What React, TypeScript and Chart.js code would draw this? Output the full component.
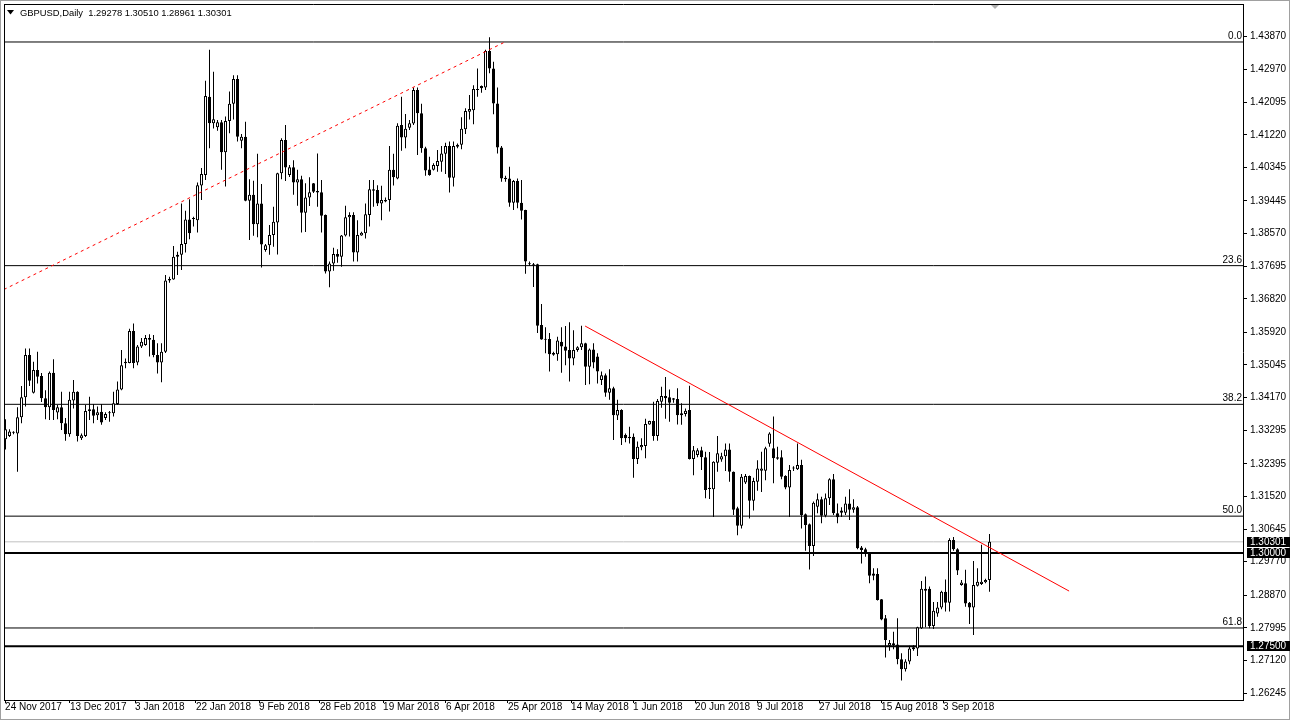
import React, { useEffect, useRef } from 'react';
import { Chart, registerables } from 'chart.js';

Chart.register(...registerables);

// ---- Data (GBPUSD Daily), one entry per bar ----
const opens = [
  1.3305, 1.3314, 1.3323, 1.3321, 1.3364, 1.3418, 1.3531, 1.3430, 1.3491, 1.3475,
  1.3415, 1.3391, 1.3484, 1.3377, 1.3391, 1.3348, 1.3319, 1.3409, 1.3433, 1.3308,
  1.3314, 1.3381, 1.3386, 1.3370, 1.3379, 1.3362, 1.3375, 1.3375, 1.3400, 1.3439,
  1.3509, 1.3510, 1.3596, 1.3511, 1.3554, 1.3558, 1.3577, 1.3572, 1.3531, 1.3511,
  1.3540, 1.3731, 1.3734, 1.3795, 1.3800, 1.3829, 1.3895, 1.3896, 1.3893, 1.3986,
  1.4014, 1.4224, 1.4153, 1.4142, 1.4156, 1.4075, 1.4159, 1.4205, 1.4272, 1.4106,
  1.4117, 1.3945, 1.3961, 1.3882, 1.3938, 1.3813, 1.3826, 1.3853, 1.3887, 1.4019,
  1.4108, 1.4014, 1.4035, 1.3994, 1.4003, 1.3913, 1.3954, 1.3992, 1.3971, 1.3968,
  1.3907, 1.3755, 1.3777, 1.3802, 1.3795, 1.3852, 1.3901, 1.3907, 1.3806, 1.3852,
  1.3858, 1.3907, 1.3972, 1.3974, 1.3938, 1.3943, 1.3947, 1.4028, 1.4005, 1.4148,
  1.4115, 1.4141, 1.4152, 1.4242, 1.4180, 1.4086, 1.4029, 1.4028, 1.4038, 1.4050,
  1.4071, 1.4092, 1.4007, 1.4090, 1.4095, 1.4137, 1.4184, 1.4188, 1.4242, 1.4253,
  1.4249, 1.4347, 1.4300, 1.4206, 1.4088, 1.4007, 1.4005, 1.3940, 1.3998, 1.3940,
  1.3920, 1.3775, 1.3775, 1.3775, 1.3612, 1.3574, 1.3574, 1.3537, 1.3533, 1.3567,
  1.3554, 1.3545, 1.3522, 1.3545, 1.3552, 1.3563, 1.3500, 1.3546, 1.3527, 1.3464,
  1.3477, 1.3430, 1.3442, 1.3369, 1.3384, 1.3317, 1.3312, 1.3312, 1.3252, 1.3284,
  1.3287, 1.3345, 1.3354, 1.3314, 1.3406, 1.3421, 1.3418, 1.3415, 1.3413, 1.3375,
  1.3373, 1.3384, 1.3252, 1.3263, 1.3276, 1.3257, 1.3172, 1.3171, 1.3242, 1.3251,
  1.3260, 1.3278, 1.3218, 1.3120, 1.3073, 1.3189, 1.3207, 1.3140, 1.3191, 1.3221,
  1.3221, 1.3293, 1.3281, 1.3257, 1.3257, 1.3207, 1.3176, 1.3227, 1.3225, 1.3236,
  1.3104, 1.3077, 1.3019, 1.3124, 1.3144, 1.3100, 1.3147, 1.3198, 1.3107, 1.3114,
  1.3108, 1.3133, 1.3116, 1.3123, 1.3015, 1.3010, 1.2999, 1.2945, 1.2944, 1.2876,
  1.2825, 1.2751, 1.2758, 1.2755, 1.2715, 1.2688, 1.2709, 1.2742, 1.2744, 1.2798,
  1.2899, 1.2904, 1.2804, 1.2838, 1.2854, 1.2896, 1.2867, 1.3035, 1.3010, 1.2914,
  1.2919, 1.2867, 1.2854, 1.2912, 1.2917, 1.2922, 1.29278,
];
const highs = [
  1.3359, 1.3332, 1.3327, 1.3391, 1.3448, 1.3549, 1.3549, 1.3513, 1.3540, 1.3483,
  1.3437, 1.3487, 1.3520, 1.3397, 1.3433, 1.3362, 1.3433, 1.3464, 1.3434, 1.3321,
  1.3397, 1.3419, 1.3400, 1.3393, 1.3400, 1.3378, 1.3381, 1.3433, 1.3460, 1.3545,
  1.3522, 1.3602, 1.3616, 1.3558, 1.3577, 1.3585, 1.3587, 1.3585, 1.3563, 1.3563,
  1.3746, 1.3741, 1.3824, 1.3808, 1.3938, 1.3918, 1.3949, 1.3902, 1.3994, 1.4033,
  1.4267, 1.4350, 1.4291, 1.4162, 1.4162, 1.4171, 1.4238, 1.4282, 1.4282, 1.4124,
  1.4157, 1.4003, 1.3999, 1.4071, 1.3990, 1.3829, 1.3880, 1.3929, 1.4020, 1.4113,
  1.4148, 1.4041, 1.4054, 1.4028, 1.4012, 1.3992, 1.4008, 1.3993, 1.4072, 1.4001,
  1.3908, 1.3782, 1.3819, 1.3815, 1.3853, 1.3932, 1.3914, 1.3914, 1.3893, 1.3862,
  1.3938, 1.4001, 1.4001, 1.3987, 1.3985, 1.3954, 1.4092, 1.4071, 1.4153, 1.4224,
  1.4178, 1.4162, 1.4249, 1.4249, 1.4205, 1.4090, 1.4063, 1.4046, 1.4081, 1.4092,
  1.4101, 1.4104, 1.4104, 1.4099, 1.4169, 1.4193, 1.4229, 1.4255, 1.4300, 1.4254,
  1.4350, 1.4384, 1.4318, 1.4249, 1.4092, 1.4012, 1.4036, 1.4001, 1.4005, 1.4001,
  1.3921, 1.3782, 1.3778, 1.3776, 1.3668, 1.3606, 1.3590, 1.3540, 1.3580, 1.3606,
  1.3609, 1.3619, 1.3598, 1.3555, 1.3610, 1.3564, 1.3549, 1.3563, 1.3536, 1.3487,
  1.3482, 1.3493, 1.3446, 1.3411, 1.3386, 1.3321, 1.3339, 1.3321, 1.3299, 1.3308,
  1.3360, 1.3355, 1.3406, 1.3413, 1.3446, 1.3472, 1.3439, 1.3416, 1.3442, 1.3402,
  1.3388, 1.3449, 1.3287, 1.3281, 1.3285, 1.3272, 1.3271, 1.3246, 1.3314, 1.3269,
  1.3294, 1.3294, 1.3219, 1.3124, 1.3212, 1.3212, 1.3208, 1.3202, 1.3249, 1.3272,
  1.3285, 1.3324, 1.3366, 1.3285, 1.3276, 1.3209, 1.3236, 1.3233, 1.3294, 1.3250,
  1.3106, 1.3079, 1.3138, 1.3160, 1.3151, 1.3160, 1.3201, 1.3212, 1.3133, 1.3123,
  1.3151, 1.3171, 1.3144, 1.3126, 1.3019, 1.3014, 1.3001, 1.2959, 1.2959, 1.2877,
  1.2834, 1.2767, 1.2789, 1.2825, 1.2731, 1.2715, 1.2751, 1.2753, 1.2802, 1.2925,
  1.2937, 1.2910, 1.2869, 1.2869, 1.2899, 1.2929, 1.3040, 1.3043, 1.3013, 1.2928,
  1.2955, 1.2869, 1.2979, 1.2959, 1.3022, 1.2931, 1.30510,
];
const lows = [
  1.3278, 1.3311, 1.3319, 1.3218, 1.3348, 1.3393, 1.3448, 1.3428, 1.3455, 1.3405,
  1.3359, 1.3357, 1.3357, 1.3359, 1.3330, 1.3301, 1.3312, 1.3388, 1.3299, 1.3303,
  1.3311, 1.3357, 1.3348, 1.3357, 1.3344, 1.3357, 1.3352, 1.3366, 1.3397, 1.3437,
  1.3496, 1.3509, 1.3496, 1.3504, 1.3550, 1.3556, 1.3527, 1.3525, 1.3482, 1.3458,
  1.3537, 1.3725, 1.3733, 1.3746, 1.3759, 1.3806, 1.3842, 1.3876, 1.3860, 1.3947,
  1.4001, 1.4086, 1.4139, 1.4133, 1.4028, 1.3983, 1.4126, 1.4163, 1.4104, 1.4086,
  1.3944, 1.3840, 1.3851, 1.3847, 1.3766, 1.3808, 1.3800, 1.3822, 1.3801, 1.4003,
  1.3998, 1.4009, 1.3961, 1.3932, 1.3860, 1.3861, 1.3931, 1.3966, 1.3929, 1.3860,
  1.3750, 1.3713, 1.3757, 1.3779, 1.3768, 1.3849, 1.3849, 1.3782, 1.3782, 1.3851,
  1.3844, 1.3876, 1.3929, 1.3931, 1.3893, 1.3941, 1.3916, 1.3986, 1.4003, 1.4079,
  1.4086, 1.4135, 1.4148, 1.4068, 1.4074, 1.4012, 1.4012, 1.4026, 1.4023, 1.4023,
  1.4017, 1.3967, 1.3983, 1.4086, 1.4083, 1.4124, 1.4163, 1.4150, 1.4224, 1.4235,
  1.4242, 1.4287, 1.4177, 1.4072, 1.3996, 1.3996, 1.3929, 1.3920, 1.3925, 1.3895,
  1.3749, 1.3770, 1.3714, 1.3590, 1.3572, 1.3536, 1.3487, 1.3529, 1.3516, 1.3484,
  1.3504, 1.3460, 1.3504, 1.3540, 1.3545, 1.3451, 1.3453, 1.3496, 1.3455, 1.3451,
  1.3419, 1.3411, 1.3303, 1.3357, 1.3290, 1.3297, 1.3294, 1.3202, 1.3239, 1.3276,
  1.3254, 1.3344, 1.3301, 1.3301, 1.3390, 1.3360, 1.3352, 1.3403, 1.3345, 1.3344,
  1.3366, 1.3251, 1.3209, 1.3257, 1.3223, 1.3147, 1.3145, 1.3097, 1.3218, 1.3245,
  1.3220, 1.3191, 1.3102, 1.3048, 1.3066, 1.3185, 1.3093, 1.3114, 1.3167, 1.3164,
  1.3195, 1.3285, 1.3187, 1.3250, 1.3198, 1.3171, 1.3097, 1.3220, 1.3223, 1.3066,
  1.3006, 1.2956, 1.2992, 1.3107, 1.3080, 1.3096, 1.3129, 1.3102, 1.3080, 1.3097,
  1.3102, 1.3089, 1.3108, 1.3010, 1.2972, 1.2990, 1.2919, 1.2927, 1.2873, 1.2820,
  1.2720, 1.2738, 1.2742, 1.2702, 1.2658, 1.2682, 1.2702, 1.2738, 1.2724, 1.2796,
  1.2801, 1.2798, 1.2796, 1.2829, 1.2849, 1.2843, 1.2843, 1.3006, 1.2941, 1.2912,
  1.2856, 1.2810, 1.2780, 1.2910, 1.2914, 1.2919, 1.28961,
];
const closes = [
  1.3332, 1.3326, 1.3325, 1.3364, 1.3418, 1.3531, 1.3462, 1.3491, 1.3473, 1.3415,
  1.3391, 1.3484, 1.3384, 1.3391, 1.3348, 1.3319, 1.3411, 1.3433, 1.3314, 1.3316,
  1.3381, 1.3386, 1.3368, 1.3378, 1.3350, 1.3373, 1.3377, 1.3402, 1.3439, 1.3504,
  1.3513, 1.3596, 1.3510, 1.3554, 1.3567, 1.3577, 1.3572, 1.3531, 1.3511, 1.3540,
  1.3731, 1.3735, 1.3795, 1.3800, 1.3829, 1.3895, 1.3858, 1.3897, 1.3987, 1.4017,
  1.4226, 1.4153, 1.4164, 1.4156, 1.4075, 1.4159, 1.4205, 1.4272, 1.4117, 1.4117,
  1.3945, 1.3961, 1.3882, 1.3938, 1.3828, 1.3826, 1.3853, 1.3889, 1.4019, 1.4108,
  1.4034, 1.4035, 1.3994, 1.4003, 1.3913, 1.3954, 1.3968, 1.3969, 1.3967, 1.3905,
  1.3755, 1.3777, 1.3802, 1.3795, 1.3852, 1.3901, 1.3907, 1.3806, 1.3853, 1.3859,
  1.3909, 1.3976, 1.3976, 1.3938, 1.3947, 1.3947, 1.4028, 1.4008, 1.4146, 1.4115,
  1.4138, 1.4153, 1.4242, 1.4180, 1.4086, 1.4026, 1.4014, 1.4041, 1.4052, 1.4072,
  1.4092, 1.4007, 1.4092, 1.4095, 1.4138, 1.4186, 1.4191, 1.4245, 1.4245, 1.4247,
  1.4347, 1.4300, 1.4206, 1.4088, 1.4005, 1.4003, 1.3940, 1.3998, 1.3940, 1.3918,
  1.3782, 1.3776, 1.3771, 1.3610, 1.3573, 1.3572, 1.3533, 1.3532, 1.3570, 1.3554,
  1.3543, 1.3522, 1.3545, 1.3552, 1.3563, 1.3500, 1.3546, 1.3511, 1.3487, 1.3477,
  1.3430, 1.3442, 1.3370, 1.3384, 1.3308, 1.3308, 1.3308, 1.3252, 1.3285, 1.3290,
  1.3346, 1.3354, 1.3314, 1.3408, 1.3421, 1.3415, 1.3403, 1.3411, 1.3370, 1.3370,
  1.3382, 1.3252, 1.3276, 1.3276, 1.3257, 1.3169, 1.3175, 1.3245, 1.3268, 1.3260,
  1.3278, 1.3218, 1.3116, 1.3073, 1.3205, 1.3207, 1.3140, 1.3193, 1.3227, 1.3227,
  1.3281, 1.3321, 1.3254, 1.3253, 1.3205, 1.3176, 1.3223, 1.3227, 1.3236, 1.3102,
  1.3075, 1.3019, 1.3135, 1.3144, 1.3100, 1.3147, 1.3198, 1.3107, 1.3096, 1.3108,
  1.3133, 1.3116, 1.3123, 1.3013, 1.3008, 1.2999, 1.2939, 1.2939, 1.2874, 1.2822,
  1.2767, 1.2759, 1.2753, 1.2715, 1.2688, 1.2709, 1.2744, 1.2747, 1.2801, 1.2904,
  1.2904, 1.2804, 1.2845, 1.2854, 1.2896, 1.2867, 1.3035, 1.3010, 1.2953, 1.2921,
  1.2865, 1.2854, 1.2914, 1.2923, 1.2923, 1.2928, 1.30301,
];

// Time axis labels and the bar position each one sits at
const dateLabels = [
  '24 Nov 2017', '13 Dec 2017', '3 Jan 2018', '22 Jan 2018', '9 Feb 2018', '28 Feb 2018',
  '19 Mar 2018', '6 Apr 2018', '25 Apr 2018', '14 May 2018', '1 Jun 2018', '20 Jun 2018',
  '9 Jul 2018', '27 Jul 2018', '15 Aug 2018', '3 Sep 2018',
];
const dateTickBars = [
  -0.1, 16.1, 32.4, 47.6, 63.4, 78.6, 94.4, 110.1, 125.6, 141.4, 156.9, 172.4, 187.9, 203.4, 218.9, 234.4,
];

// Price axis ticks
const priceTicks = [
  1.4387, 1.4297, 1.42095, 1.4122, 1.40345, 1.39445, 1.3857, 1.37695, 1.3682, 1.3592, 1.35045,
  1.3417, 1.33295, 1.32395, 1.3152, 1.30645, 1.2977, 1.2887, 1.27995, 1.2712, 1.26245,
];

// Fibonacci retracement levels
const fibLabels = ['0.0', '23.6', '38.2', '50.0', '61.8'];
const fibPrices = [1.4371, 1.3771, 1.3399, 1.3099, 1.2799];

// Horizontal key levels and current bid
const keyLevels = [1.3, 1.275];
const bidPrice = 1.30301;

// Trend lines (bar position, price)
const upTrendBars = [-0.4, 124.5];
const upTrendPrices = [1.3707, 1.4369];
const downTrendBars = [144.9, 265.9];
const downTrendPrices = [1.3609, 1.2898];

const titleText = 'GBPUSD,Daily  1.29278 1.30510 1.28961 1.30301';

// Axis window (bars / price)
const X_MIN = -0.375;
const X_MAX = 309.375;
const Y_MIN = 1.26058;
const Y_MAX = 1.44729;

const FONT = '"Liberation Sans", Arial, sans-serif';

export default function App() {
  const ref = useRef<HTMLCanvasElement | null>(null);

  useEffect(() => {
    const canvas = ref.current;
    if (!canvas) return;
    const idx = opens.map((_, i) => i);
    const wickData = idx.map((i) => ({ x: i, y: [lows[i], highs[i]] }));
    const bodyData = idx.map((i) => ({ x: i, y: [opens[i], closes[i]] }));
    const bodyColors = idx.map((i) => (closes[i] >= opens[i] ? '#ffffff' : '#000000'));

    const hLine = (p: number) => [
      { x: X_MIN, y: p },
      { x: X_MAX, y: p },
    ];

    const lineBase = {
      type: 'line' as const,
      pointRadius: 0,
      pointHoverRadius: 0,
      fill: false,
      tension: 0,
    };

    const datasets: any[] = [];
    fibPrices.forEach((p) => {
      datasets.push({ ...lineBase, data: hLine(p), borderColor: '#000000', borderWidth: 1, order: 6 });
    });
    datasets.push({ ...lineBase, data: hLine(bidPrice), borderColor: '#c0c0c0', borderWidth: 1, order: 6 });
    keyLevels.forEach((p) => {
      datasets.push({ ...lineBase, data: hLine(p), borderColor: '#000000', borderWidth: 2, order: 6 });
    });
    datasets.push({
      type: 'bar',
      data: wickData,
      backgroundColor: '#000000',
      borderWidth: 0,
      barThickness: 1,
      grouped: false,
      inflateAmount: 0,
      order: 4,
    });
    datasets.push({
      type: 'bar',
      data: bodyData,
      backgroundColor: bodyColors,
      borderColor: '#000000',
      borderWidth: 1,
      borderSkipped: false,
      barThickness: 3,
      minBarLength: 1,
      grouped: false,
      inflateAmount: 0,
      order: 3,
    });
    datasets.push({
      ...lineBase,
      data: upTrendBars.map((b, i) => ({ x: b, y: upTrendPrices[i] })),
      borderColor: '#ff0000',
      borderWidth: 1,
      borderDash: [3, 3.6],
      order: 1,
    });
    datasets.push({
      ...lineBase,
      data: downTrendBars.map((b, i) => ({ x: b, y: downTrendPrices[i] })),
      borderColor: '#ff0000',
      borderWidth: 1,
      order: 1,
    });

    const overlay = {
      id: 'mt4Overlay',
      beforeDraw(chart: any) {
        const c = chart.ctx;
        c.save();
        c.fillStyle = '#ffffff';
        c.fillRect(0, 0, chart.width, chart.height);
        c.restore();
      },
      afterDraw(chart: any) {
        const c = chart.ctx;
        const { left, right, top, bottom } = chart.chartArea;
        const ys = chart.scales.y;
        c.save();
        // window border
        c.strokeStyle = '#a0a0a0';
        c.lineWidth = 1;
        c.strokeRect(0.5, 0.5, chart.width - 1, chart.height - 1);
        // chart frame (left / top)
        c.strokeStyle = '#000000';
        c.beginPath();
        c.moveTo(left + 0.5, top);
        c.lineTo(left + 0.5, bottom);
        c.moveTo(left, top + 0.5);
        c.lineTo(right, top + 0.5);
        c.stroke();
        // title
        c.fillStyle = '#000000';
        c.beginPath();
        c.moveTo(7, 10);
        c.lineTo(14, 10);
        c.lineTo(10.5, 14.5);
        c.closePath();
        c.fill();
        c.font = '9.4px ' + FONT;
        c.textAlign = 'left';
        c.textBaseline = 'middle';
        c.fillText(titleText, 20, 13);
        // shift marker
        c.fillStyle = '#b0b0b0';
        c.beginPath();
        c.moveTo(991, 5);
        c.lineTo(999, 5);
        c.lineTo(995, 9);
        c.closePath();
        c.fill();
        // fib labels
        c.fillStyle = '#000000';
        c.font = '10px ' + FONT;
        c.textAlign = 'right';
        c.textBaseline = 'alphabetic';
        fibPrices.forEach((p, i) => {
          c.fillText(fibLabels[i], right - 1, ys.getPixelForValue(p) - 3);
        });
        // price boxes on the axis
        c.textAlign = 'left';
        c.textBaseline = 'middle';
        [bidPrice, ...keyLevels].forEach((p) => {
          const py = ys.getPixelForValue(p);
          c.fillStyle = '#000000';
          c.fillRect(right + 4, Math.round(py) - 5, chart.width - right - 4, 10);
          c.fillStyle = '#ffffff';
          c.fillText(p.toFixed(5), right + 7, py);
        });
        c.restore();
      },
    };

    const chart = new Chart(canvas, {
      type: 'bar',
      data: { datasets },
      options: {
        animation: false,
        responsive: false,
        devicePixelRatio: 1,
        events: [],
        layout: { padding: { left: 4, top: 4, right: 0, bottom: 0 } },
        plugins: { legend: { display: false }, tooltip: { enabled: false } },
        scales: {
          x: {
            type: 'linear',
            position: 'bottom',
            offset: false,
            min: X_MIN,
            max: X_MAX,
            afterBuildTicks: (s: any) => {
              s.ticks = dateTickBars.map((v) => ({ value: v }));
            },
            afterFit: (s: any) => {
              s.height = 20;
              s.paddingLeft = 0;
              s.paddingRight = 0;
            },
            ticks: {
              callback: (_v: any, i: number) => dateLabels[i],
              align: 'start',
              autoSkip: false,
              maxRotation: 0,
              minRotation: 0,
              padding: -2,
              color: '#000000',
              font: { family: FONT, size: 10 },
            },
            grid: { offset: false, drawOnChartArea: false, drawTicks: true, tickLength: 3, color: '#000000' },
            border: { display: true, color: '#000000', width: 1 },
          },
          y: {
            type: 'linear',
            position: 'right',
            offset: false,
            min: Y_MIN,
            max: Y_MAX,
            afterBuildTicks: (s: any) => {
              s.ticks = priceTicks.map((v) => ({ value: v }));
            },
            afterFit: (s: any) => {
              s.width = 47;
              s.paddingTop = 0;
              s.paddingBottom = 0;
            },
            ticks: {
              callback: (v: any) => Number(v).toFixed(5),
              autoSkip: false,
              padding: 3,
              color: '#000000',
              font: { family: FONT, size: 10 },
            },
            grid: { drawOnChartArea: false, drawTicks: true, tickLength: 4, color: '#000000' },
            border: { display: true, color: '#000000', width: 1 },
          },
        },
      } as any,
      plugins: [overlay],
    });
    return () => chart.destroy();
  }, []);

  return (
    <div style={{ position: 'fixed', left: 0, top: 0, width: 1290, height: 720, background: '#ffffff' }}>
      <canvas ref={ref} width={1290} height={720} style={{ display: 'block', width: 1290, height: 720 }} />
    </div>
  );
}
